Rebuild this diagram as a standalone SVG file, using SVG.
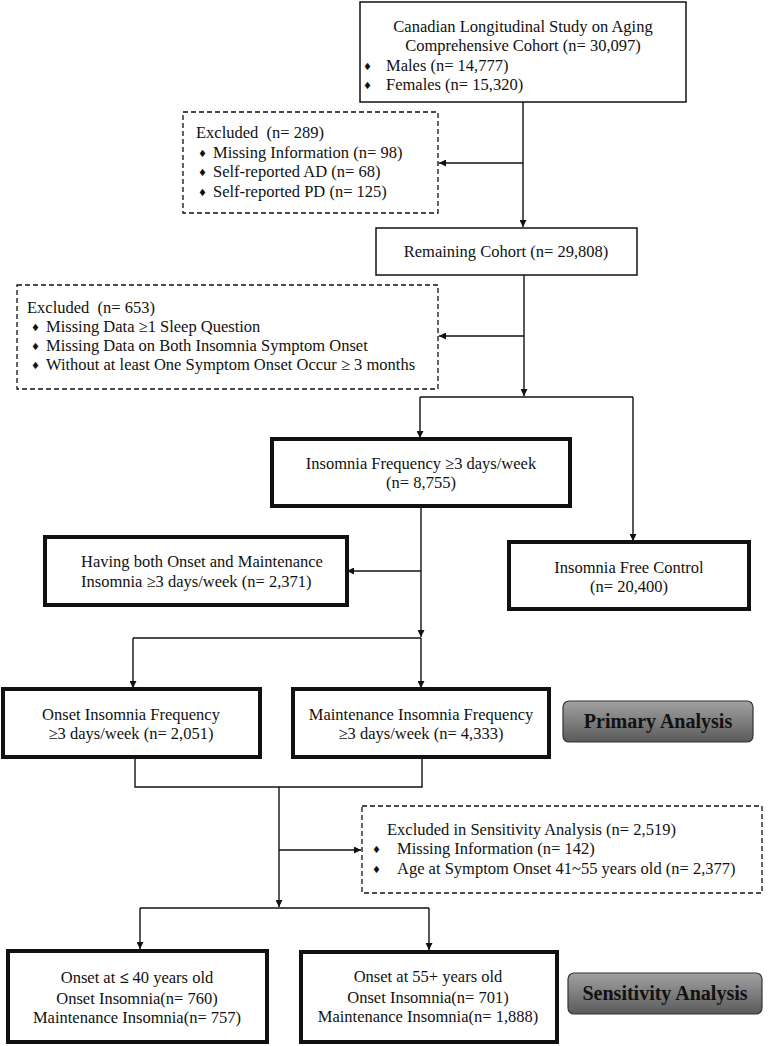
<svg xmlns="http://www.w3.org/2000/svg" width="768" height="1046" viewBox="0 0 768 1046">
<style>
text{font-family:"Liberation Serif","DejaVu Serif",serif;font-size:16.5px;fill:#111}
.c{text-anchor:middle}
.b{font-weight:bold;font-size:20px}
.d{font-family:"DejaVu Sans",sans-serif;font-size:10px}
.thin{fill:#fff;stroke:#111;stroke-width:1.5}
.thick{fill:#fff;stroke:#111;stroke-width:4}
.dash{fill:#fff;stroke:#111;stroke-width:1.3;stroke-dasharray:5 3}
.btn{fill:url(#g);stroke:#333;stroke-width:1.2}
.ln{fill:none;stroke:#111;stroke-width:1.4}
</style>
<defs>
<linearGradient id="g" x1="0" y1="0" x2="0" y2="1">
<stop offset="0" stop-color="#a2a2a2"/>
<stop offset="1" stop-color="#5a5a5a"/>
</linearGradient>
<marker id="a" viewBox="0 0 10 10" refX="10" refY="5" markerWidth="7" markerHeight="7" markerUnits="userSpaceOnUse" orient="auto">
<path d="M0,0 L10,5 L0,10 z" fill="#111"/>
</marker>
</defs>
<rect width="768" height="1046" fill="#fff"/>

<g id="connectors">
<path class="ln" d="M523,102 V227" marker-end="url(#a)"/>
<path class="ln" d="M523,163 H439" marker-end="url(#a)"/>
<path class="ln" d="M524,275 V396" marker-end="url(#a)"/>
<path class="ln" d="M524,336 H439" marker-end="url(#a)"/>
<path class="ln" d="M420,397 H633"/>
<path class="ln" d="M420,397 V438" marker-end="url(#a)"/>
<path class="ln" d="M633,397 V541" marker-end="url(#a)"/>
<path class="ln" d="M421,506 V637" marker-end="url(#a)"/>
<path class="ln" d="M421,571 H347" marker-end="url(#a)"/>
<path class="ln" d="M133,638 H421"/>
<path class="ln" d="M133,638 V688" marker-end="url(#a)"/>
<path class="ln" d="M421,638 V688" marker-end="url(#a)"/>
<path class="ln" d="M135,757 V787 H422 V757"/>
<path class="ln" d="M279,787 V907" marker-end="url(#a)"/>
<path class="ln" d="M279,850 H361" marker-end="url(#a)"/>
<path class="ln" d="M140,908 H429"/>
<path class="ln" d="M140,908 V949" marker-end="url(#a)"/>
<path class="ln" d="M429,908 V950" marker-end="url(#a)"/>
</g>

<g id="cohort">
<rect class="thin" x="360" y="2" width="326" height="100"/>
<text class="c" x="523" y="32">Canadian Longitudinal Study on Aging</text>
<text class="c" x="523" y="51">Comprehensive Cohort (n= 30,097)</text>
<text class="d" x="363" y="70">♦</text><text x="386" y="71">Males (n= 14,777)</text>
<text class="d" x="363" y="89">♦</text><text x="386" y="90">Females (n= 15,320)</text>
</g>

<g id="excluded1">
<rect class="dash" x="183" y="112" width="255" height="101"/>
<text x="196" y="138">Excluded &#160;(n= 289)</text>
<text class="d" x="198" y="157">♦</text><text x="213" y="158">Missing Information (n= 98)</text>
<text class="d" x="198" y="176">♦</text><text x="213" y="177">Self-reported AD (n= 68)</text>
<text class="d" x="198" y="196">♦</text><text x="213" y="197">Self-reported PD (n= 125)</text>
</g>

<g id="remaining">
<rect class="thin" x="376" y="228" width="261" height="47"/>
<text class="c" x="506" y="257">Remaining Cohort (n= 29,808)</text>
</g>

<g id="excluded2">
<rect class="dash" x="17" y="285" width="421" height="104"/>
<text x="27" y="313">Excluded &#160;(n= 653)</text>
<text class="d" x="31" y="331">♦</text><text x="46" y="332">Missing Data ≥1 Sleep Question</text>
<text class="d" x="31" y="350">♦</text><text x="46" y="351">Missing Data on Both Insomnia Symptom Onset</text>
<text class="d" x="31" y="369">♦</text><text x="46" y="370">Without at least One Symptom Onset Occur ≥ 3 months</text>
</g>

<g id="insomnia-frequency">
<rect class="thick" x="272" y="439" width="298" height="67"/>
<text class="c" x="421" y="469">Insomnia Frequency ≥3 days/week</text>
<text class="c" x="421" y="488">(n= 8,755)</text>
</g>

<g id="free-control">
<rect class="thick" x="509" y="542" width="240" height="67"/>
<text class="c" x="629" y="573">Insomnia Free Control</text>
<text class="c" x="629" y="592">(n= 20,400)</text>
</g>

<g id="both">
<rect class="thick" x="45" y="537" width="302" height="68"/>
<text x="81" y="567">Having both Onset and Maintenance</text>
<text x="81" y="587">Insomnia ≥3 days/week (n= 2,371)</text>
</g>

<g id="onset">
<rect class="thick" x="3" y="689" width="257" height="68"/>
<text class="c" x="131" y="720">Onset Insomnia Frequency</text>
<text class="c" x="131" y="739">≥3 days/week (n= 2,051)</text>
</g>

<g id="maintenance">
<rect class="thick" x="293" y="689" width="256" height="68"/>
<text class="c" x="421" y="720">Maintenance Insomnia Frequency</text>
<text class="c" x="421" y="739">≥3 days/week (n= 4,333)</text>
</g>

<g id="primary-analysis">
<rect class="btn" x="563" y="701" width="190" height="41" rx="6"/>
<text class="c b" x="658" y="728">Primary Analysis</text>
</g>

<g id="excluded-sensitivity">
<rect class="dash" x="362" y="806" width="400" height="87"/>
<text x="387" y="835">Excluded in Sensitivity Analysis (n= 2,519)</text>
<text class="d" x="372" y="853">♦</text><text x="397" y="854">Missing Information (n= 142)</text>
<text class="d" x="372" y="873">♦</text><text x="397" y="874">Age at Symptom Onset 41~55 years old (n= 2,377)</text>
</g>

<g id="onset-40">
<rect class="thick" x="8" y="951" width="259" height="91"/>
<text class="c" x="137" y="983">Onset at <tspan font-weight="bold">≤</tspan> 40 years old</text>
<text class="c" x="137" y="1004">Onset Insomnia(n= 760)</text>
<text class="c" x="137" y="1023">Maintenance Insomnia(n= 757)</text>
</g>

<g id="onset-55">
<rect class="thick" x="301" y="952" width="256" height="90"/>
<text class="c" x="428" y="982">Onset at 55+ years old</text>
<text class="c" x="428" y="1003">Onset Insomnia(n= 701)</text>
<text class="c" x="428" y="1022">Maintenance Insomnia(n= 1,888)</text>
</g>

<g id="sensitivity-analysis">
<rect class="btn" x="568" y="973" width="194" height="41" rx="6"/>
<text class="c b" x="665" y="1000">Sensitivity Analysis</text>
</g>
</svg>
